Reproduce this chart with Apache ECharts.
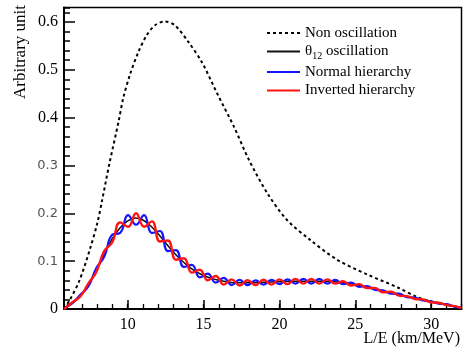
<!DOCTYPE html>
<html><head><meta charset="utf-8">
<script src="https://cdn.jsdelivr.net/npm/echarts@6/dist/echarts.min.js"></script>
<style>html,body{margin:0;padding:0;background:#fff;}#c{width:463px;height:350px;}</style>
</head><body><div id="c"></div>
<script>
// ---- data ----
const seriesNames = ['Non oscillation', 'θ12 oscillation', 'Normal hierarchy', 'Inverted hierarchy'];

const nonOscX = [5.8, 6.2, 6.8, 7.5, 8.0, 8.3, 8.8, 9.4, 9.7, 10.15, 10.7, 11.25, 11.8, 12.45, 13.1, 14.0, 14.9, 15.9, 17.0, 18.0, 19.2, 20.5, 22.0, 23.8, 25.8, 27.8, 29.0, 30.0, 31.0, 32.0];
const nonOscY = [0, 0.02, 0.058, 0.124, 0.18, 0.225, 0.305, 0.392, 0.44, 0.49, 0.537, 0.572, 0.593, 0.601, 0.593, 0.558, 0.515, 0.45, 0.381, 0.311, 0.242, 0.186, 0.145, 0.103, 0.072, 0.045, 0.026, 0.016, 0.009, 0.002];

const theta12X = [5.8, 6, 6.5, 7, 7.5, 8, 8.5, 9, 9.5, 10, 10.5, 11, 11.5, 12, 12.5, 13, 13.5, 14, 14.5, 15, 15.5, 16, 16.5, 17, 18, 19, 20, 21, 22, 23, 24, 25, 26, 27, 28, 29, 30, 31, 32];
const theta12Y = [0, 0.005, 0.016, 0.032, 0.055, 0.085, 0.118, 0.148, 0.170, 0.184, 0.190, 0.186, 0.174, 0.157, 0.138, 0.119, 0.103, 0.089, 0.078, 0.070, 0.064, 0.060, 0.057, 0.055, 0.055, 0.056, 0.057, 0.058, 0.058, 0.058, 0.056, 0.051, 0.044, 0.036, 0.029, 0.022, 0.015, 0.009, 0.002];

const hierX = [5.8, 6.0, 6.35, 6.875, 7.4, 7.925, 8.45, 8.975, 9.5, 10.025, 10.55, 11.075, 11.6, 12.125, 12.65, 13.175, 13.7, 14.225, 14.75, 15.275, 15.8, 16.325, 16.85, 17.375, 17.9, 18.425, 18.95, 19.475, 20.0, 20.525, 21.05, 21.575, 22.1, 22.625, 23.15, 23.675, 24.2, 24.725, 25.25, 25.775, 26.3, 26.825, 27.35, 27.875, 28.4, 28.925, 29.45, 29.975, 30.5, 31.025, 31.55, 32.0];
const normalY = [0, 0.005, 0.012, 0.030, 0.047, 0.085, 0.109, 0.155, 0.159, 0.196, 0.176, 0.196, 0.159, 0.163, 0.121, 0.123, 0.088, 0.092, 0.066, 0.074, 0.055, 0.065, 0.050, 0.061, 0.050, 0.060, 0.051, 0.061, 0.052, 0.062, 0.053, 0.063, 0.053, 0.063, 0.053, 0.061, 0.052, 0.055, 0.046, 0.048, 0.040, 0.039, 0.032, 0.032, 0.025, 0.024, 0.018, 0.016, 0.011, 0.010, 0.005, 0.002];
const invertedY = [0, 0.005, 0.014, 0.026, 0.053, 0.077, 0.121, 0.139, 0.181, 0.172, 0.200, 0.172, 0.183, 0.141, 0.143, 0.103, 0.106, 0.076, 0.082, 0.060, 0.069, 0.051, 0.062, 0.049, 0.060, 0.050, 0.061, 0.051, 0.062, 0.052, 0.063, 0.053, 0.063, 0.053, 0.062, 0.053, 0.058, 0.049, 0.052, 0.044, 0.044, 0.035, 0.036, 0.028, 0.027, 0.021, 0.020, 0.014, 0.013, 0.008, 0.006, 0.002];

const sansLabels = [0.1, 0.2, 0.3];
const xTitle = 'L/E (km/MeV)';
const yTitle = 'Arbitrary unit';

// ---- chart ----
const zip = (xs, ys) => xs.map((x, i) => [x, ys[i]]);
const serif = 'Liberation Serif';
const chart = echarts.init(document.getElementById('c'), null, {renderer: 'canvas'});

chart.setOption({
  animation: false,
  backgroundColor: '#fff',
  grid: {left: 64, right: 1.5, top: 7.5, bottom: 41, show: true, borderColor: '#000', borderWidth: 1.5, backgroundColor: 'transparent'},
  legend: {
    orient: 'vertical', left: 266, top: 25.5, padding: 0, itemGap: 3.5,
    itemWidth: 33, itemHeight: 14,
    data: seriesNames,
    itemStyle: {opacity: 0},
    textStyle: {fontFamily: serif, fontSize: 15, color: '#000', lineHeight: 14,
      rich: {
        t: {fontFamily: serif, fontSize: 15, color: '#000'},
        sub: {fontFamily: serif, fontSize: 10, color: '#000', padding: [9, 0, 0, 0]}
      }},
    formatter: n => n === seriesNames[1] ? '{t|θ}{sub|12}{t| oscillation}' : n
  },
  xAxis: [{
    type: 'value', min: 5.8, max: 32, splitNumber: 5,
    axisLine: {show: true, onZero: false, lineStyle: {color: '#000', width: 2}},
    axisTick: {show: true, inside: true, length: 9, lineStyle: {color: '#000', width: 1.5}},
    axisLabel: {showMinLabel: false, showMaxLabel: false, fontFamily: serif, fontSize: 16, color: '#000', margin: 8,
      formatter: v => String(Math.round(v))},
    splitLine: {show: false}
  }, {
    type: 'value', min: 5.8, max: 32, splitNumber: 26, position: 'bottom',
    axisLine: {show: false, onZero: false},
    axisTick: {show: true, inside: true, length: 5, lineStyle: {color: '#000', width: 1.3}},
    axisLabel: {show: false}, splitLine: {show: false}
  }],
  yAxis: [{
    type: 'value', min: 0, max: 0.63, interval: 0.1,
    axisLine: {show: true, onZero: false, lineStyle: {color: '#000', width: 2}},
    axisTick: {show: true, inside: true, length: 11, lineStyle: {color: '#000', width: 1.5}},
    axisLabel: {showMaxLabel: false, margin: 6, color: '#000',
      formatter: v => {
        const r = Math.round(v * 10) / 10;
        const s = r === 0 ? '0' : r.toFixed(1);
        return sansLabels.indexOf(r) >= 0 ? '{s|' + s + '}' : '{r|' + s + '}';
      },
      rich: {
        s: {fontFamily: 'DejaVu Sans', fontSize: 13, color: '#555'},
        r: {fontFamily: serif, fontSize: 16, color: '#000'}
      }},
    splitLine: {show: false}
  }, {
    type: 'value', min: 0, max: 0.63, interval: 0.02, position: 'left',
    axisLine: {show: false, onZero: false},
    axisTick: {show: true, inside: true, length: 6, lineStyle: {color: '#000', width: 1.5}},
    axisLabel: {show: false}, splitLine: {show: false}
  }],
  series: [
    {name: seriesNames[0], type: 'line', data: zip(nonOscX, nonOscY), smooth: 0.3, showSymbol: false, symbol: 'none',
      lineStyle: {color: '#000', width: 2, type: [3, 3]}, itemStyle: {color: '#000'}, z: 2},
    {name: seriesNames[1], type: 'line', data: zip(theta12X, theta12Y), smooth: 0.4, showSymbol: false, symbol: 'none',
      lineStyle: {color: '#111', width: 1.5}, itemStyle: {color: '#111'}, z: 3},
    {name: seriesNames[2], type: 'line', data: zip(hierX, normalY), smooth: 0.45, showSymbol: false, symbol: 'none',
      lineStyle: {color: '#1414ff', width: 2.2}, itemStyle: {color: '#1414ff'}, z: 4},
    {name: seriesNames[3], type: 'line', data: zip(hierX, invertedY), smooth: 0.45, showSymbol: false, symbol: 'none',
      lineStyle: {color: '#ff1414', width: 2.4}, itemStyle: {color: '#ff1414'}, z: 5}
  ],
  graphic: [
    {type: 'text', x: 460, y: 339, style: {text: xTitle, fontFamily: serif, fontSize: 16, fill: '#000', align: 'right', verticalAlign: 'middle'}},
    {type: 'text', x: 20.5, y: 5, rotation: Math.PI / 2, style: {text: yTitle, fontFamily: serif, fontSize: 17, fill: '#000', align: 'right', verticalAlign: 'middle'}}
  ]
});
</script></body></html>
